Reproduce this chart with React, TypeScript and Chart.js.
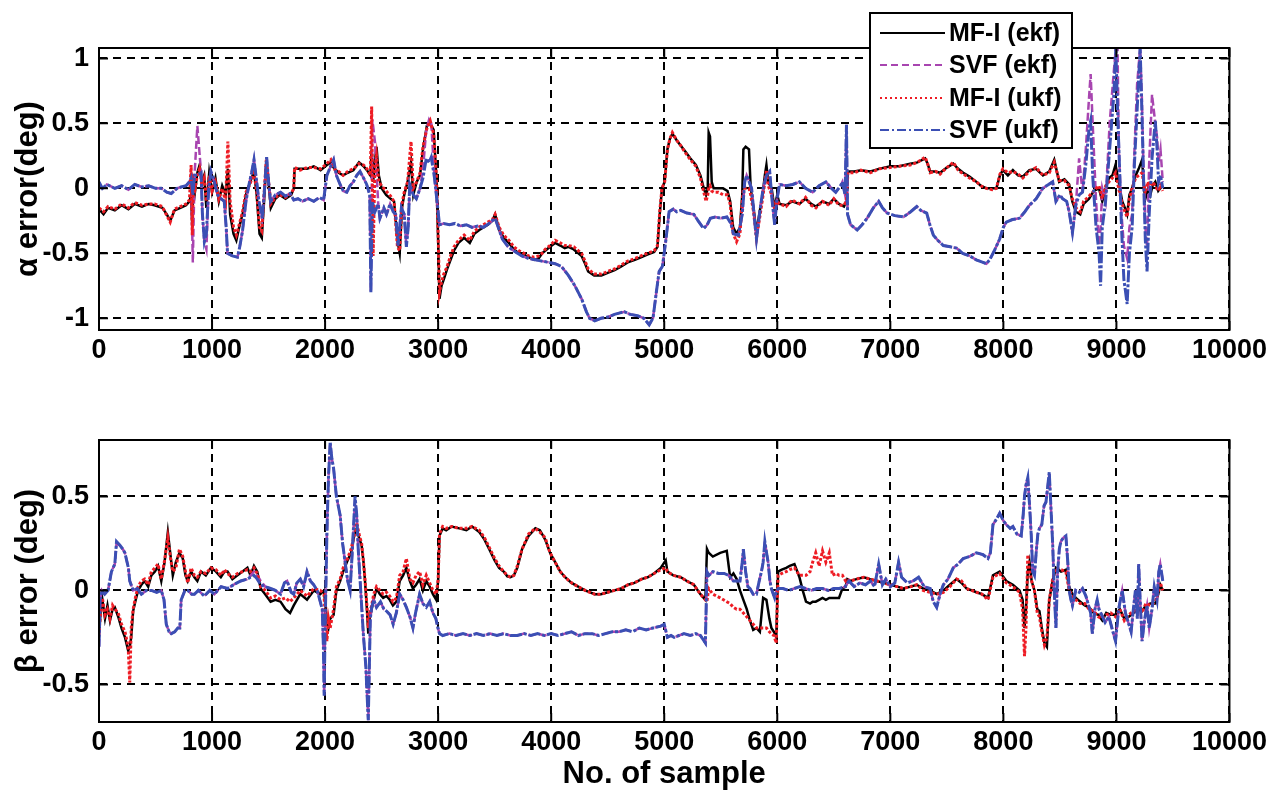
import React, { useEffect, useRef } from 'react';
import { Chart, registerables } from 'chart.js';

Chart.register(...registerables);

// ---------- labels ----------
const X_TICKS = [0, 1000, 2000, 3000, 4000, 5000, 6000, 7000, 8000, 9000, 10000];
const ALPHA_TICKS = [-1, -0.5, 0, 0.5, 1];
const BETA_TICKS = [-0.5, 0, 0.5];
const SERIES_NAMES = ['MF-I (ekf)', 'SVF (ekf)', 'MF-I (ukf)', 'SVF (ukf)'];
const ALPHA_TITLE = 'α error(deg)';
const BETA_TITLE = 'β error (deg)';
const X_TITLE = 'No. of sample';

// ---------- alpha (top) : MF-I sample positions ----------
const alphaMfX = [
  0, 40, 80, 140, 200, 260, 316, 380, 440, 492,
  560, 600, 630, 668, 720, 770, 800, 815, 825, 835,
  850, 870, 890, 910, 930, 950, 975, 1000, 1030, 1060,
  1090, 1120, 1140, 1160, 1190, 1215, 1240, 1270, 1300, 1330,
  1371, 1395, 1420, 1440, 1460, 1480, 1500, 1520, 1560, 1600,
  1650, 1700, 1723, 1730, 1780, 1840, 1900, 1960, 2016, 2050,
  2075, 2120, 2160, 2200, 2250, 2300, 2340, 2370, 2400, 2412,
  2425, 2440, 2455, 2475, 2500, 2540, 2580, 2610, 2640, 2660,
  2680, 2700, 2730, 2760, 2780, 2810, 2840, 2866, 2900, 2930,
  2960, 2985, 3000, 3012, 3030, 3050, 3080, 3110, 3140, 3180,
  3230, 3280, 3320, 3364, 3400, 3440, 3480, 3504, 3540, 3580,
  3626, 3670, 3714, 3760, 3801, 3850, 3889, 3920, 3947, 3990,
  4035, 4080, 4120, 4152, 4200, 4240, 4269, 4300, 4327, 4380,
  4444, 4500, 4561, 4620, 4677, 4740, 4794, 4850, 4911, 4940,
  4960, 4980, 5004, 5028, 5050, 5072, 5110, 5145, 5190, 5232,
  5280, 5320, 5350, 5370, 5385, 5393, 5405, 5420, 5437, 5480,
  5520, 5560, 5583, 5610, 5640, 5670, 5690, 5700, 5720, 5750,
  5765, 5790, 5816, 5840, 5870, 5890, 5904, 5920, 5950, 5975,
  6000, 6020, 6079, 6130, 6196, 6250, 6300, 6342, 6400, 6459,
  6500, 6546, 6590, 6610, 6625, 6680, 6740, 6824, 6900, 7000,
  7080, 7176, 7240, 7308, 7330, 7352, 7400, 7440, 7500, 7557,
  7600, 7645, 7700, 7762, 7800, 7850, 7900, 7938, 7970, 7996,
  8040, 8084, 8130, 8172, 8230, 8289, 8350, 8406, 8450, 8494,
  8540, 8582, 8610, 8641, 8680, 8710, 8758, 8800, 8846, 8875,
  8905, 8934, 8965, 8992, 9020, 9051, 9075, 9095, 9115, 9139,
  9170, 9197, 9227, 9245, 9256, 9280, 9300, 9320, 9344, 9370,
  9388, 9410,
];
const alphaMfEkf = [
  -0.16, -0.2, -0.15, -0.17, -0.13, -0.16, -0.12, -0.14, -0.12, -0.13,
  -0.15, -0.2, -0.25, -0.17, -0.15, -0.13, -0.1, -0.05, -0.3, 0.1,
  -0.02, 0.12, 0.18, 0.05, 0.1, -0.15, 0.12, -0.03, 0.08, -0.1,
  0.02, -0.05, 0.15, -0.2, -0.35, -0.4, -0.3, -0.2, -0.05, 0.03,
  0.13, -0.05, -0.35, -0.38, -0.1, 0.2, 0.05, -0.15, -0.08, -0.05,
  -0.08, -0.05, 0.0, 0.15, 0.15, 0.15, 0.17, 0.14, 0.18, 0.2,
  0.16, 0.12, 0.1, 0.12, 0.14, 0.2, 0.17, 0.14, 0.1, 0.3,
  0.05, 0.2, 0.32, 0.1, 0.0, -0.05, -0.08, -0.1, -0.4, -0.5,
  -0.15, -0.05, 0.05, 0.2, -0.05, 0.05, 0.1, 0.3, 0.48, 0.5,
  0.45, 0.08, -0.4, -0.85, -0.75, -0.7, -0.62, -0.55, -0.48, -0.42,
  -0.38, -0.42, -0.35, -0.32, -0.3, -0.28, -0.25, -0.2, -0.32, -0.38,
  -0.42, -0.47, -0.5, -0.51, -0.53, -0.55, -0.54, -0.5, -0.48, -0.45,
  -0.42, -0.44, -0.46, -0.45, -0.47, -0.5, -0.52, -0.58, -0.64, -0.67,
  -0.67, -0.65, -0.63, -0.6, -0.57, -0.55, -0.53, -0.51, -0.49, -0.45,
  -0.2, 0.0, 0.05, 0.3, 0.38, 0.42, 0.37, 0.33, 0.28, 0.23,
  0.18, 0.1, 0.0, -0.05, 0.0, 0.43, 0.4, 0.05, 0.0, 0.0,
  0.0, -0.02, -0.1, -0.3, -0.35, -0.3, -0.05, 0.3, 0.32, 0.3,
  0.0, -0.15, -0.34, -0.2, -0.05, 0.1, 0.18, 0.05, 0.0, -0.15,
  -0.05, -0.12, -0.13, -0.1, -0.12, -0.08, -0.12, -0.14, -0.1, -0.12,
  -0.08, -0.12, -0.14, -0.1, 0.13, 0.13, 0.14, 0.13, 0.15, 0.17,
  0.17, 0.19, 0.2, 0.23, 0.19, 0.13, 0.13, 0.12, 0.16, 0.19,
  0.15, 0.12, 0.09, 0.05, 0.02, 0.0, 0.0, 0.0, 0.1, 0.14,
  0.1, 0.14, 0.1, 0.09, 0.14, 0.15, 0.1, 0.13, 0.22, 0.05,
  0.07, 0.03, -0.1, -0.18, -0.2, -0.12, -0.08, -0.02, 0.0, -0.1,
  0.0, 0.08, 0.1, 0.18, 0.05, -0.1, -0.15, -0.2, -0.05, 0.0,
  0.1, 0.15, 0.22, 0.0, -0.08, 0.0, -0.05, 0.02, 0.05, -0.02,
  0.0, 0.02,
];
const alphaMfUkf = [
  -0.15, -0.18, -0.14, -0.16, -0.12, -0.15, -0.11, -0.13, -0.12, -0.12,
  -0.14, -0.21, -0.26, -0.16, -0.14, -0.12, -0.09, 0.18, -0.36, 0.05,
  0.0, 0.1, 0.15, 0.03, 0.08, -0.1, 0.1, -0.02, 0.05, -0.08,
  0.0, -0.1, 0.36, -0.1, -0.3, -0.36, -0.28, -0.18, -0.03, 0.02,
  0.12, -0.03, -0.3, -0.33, -0.05, 0.22, 0.05, -0.12, -0.07, -0.05,
  -0.07, -0.04, 0.0, 0.16, 0.14, 0.16, 0.16, 0.15, 0.19, 0.22,
  0.15, 0.13, 0.1, 0.13, 0.15, 0.19, 0.18, 0.15, 0.1, 0.63,
  -0.52, 0.15, 0.25, 0.05, 0.02, -0.02, -0.06, -0.1, -0.45, -0.48,
  -0.12, -0.03, 0.05, 0.36, 0.0, 0.05, 0.12, 0.32, 0.46, 0.52,
  0.42, 0.1, -0.35, -0.8, -0.72, -0.66, -0.6, -0.52, -0.45, -0.4,
  -0.36, -0.4, -0.33, -0.3, -0.28, -0.26, -0.24, -0.2, -0.3, -0.36,
  -0.4, -0.45, -0.48, -0.5, -0.52, -0.53, -0.52, -0.5, -0.47, -0.44,
  -0.4, -0.42, -0.44, -0.44, -0.45, -0.48, -0.5, -0.56, -0.62, -0.66,
  -0.66, -0.64, -0.62, -0.59, -0.56, -0.54, -0.52, -0.5, -0.48, -0.44,
  -0.18, 0.0, 0.05, 0.3, 0.38, 0.43, 0.37, 0.33, 0.27, 0.22,
  0.17, 0.08, -0.03, -0.1, -0.05, 0.0, 0.02, -0.02, -0.03, -0.03,
  -0.05, -0.05, -0.12, -0.35, -0.41, -0.35, -0.1, 0.0, 0.0, 0.0,
  -0.05, -0.18, -0.38, -0.25, -0.08, 0.05, 0.14, 0.02, -0.05, -0.15,
  -0.1, -0.12, -0.14, -0.09, -0.12, -0.07, -0.13, -0.15, -0.1, -0.13,
  -0.08, -0.13, -0.13, -0.1, 0.12, 0.12, 0.14, 0.12, 0.15, 0.16,
  0.17, 0.18, 0.2, 0.24, 0.19, 0.12, 0.13, 0.11, 0.16, 0.2,
  0.14, 0.11, 0.08, 0.05, 0.02, 0.0, -0.01, 0.0, 0.11, 0.15,
  0.12, 0.13, 0.11, 0.08, 0.13, 0.16, 0.1, 0.12, 0.2, 0.06,
  0.06, 0.02, -0.08, -0.15, -0.18, -0.1, -0.06, -0.02, 0.02, -0.08,
  0.02, 0.05, 0.08, 0.12, 0.0, -0.12, -0.18, -0.22, -0.08, 0.0,
  0.08, 0.1, 0.12, 0.02, -0.02, 0.05, 0.0, 0.05, 0.02, -0.02,
  0.02, -0.02,
];

// ---------- alpha (top) : SVF sample positions ----------
const alphaSvfX = [
  0, 30, 70, 140, 200, 260, 316, 380, 440, 500,
  551, 600, 639, 690, 727, 770, 800, 815, 830, 845,
  870, 903, 915, 932, 950, 970, 990, 1020, 1049, 1080,
  1108, 1125, 1137, 1180, 1225, 1245, 1269, 1300, 1327, 1350,
  1371, 1395, 1415, 1444, 1465, 1483, 1500, 1518, 1560, 1606,
  1650, 1690, 1723, 1760, 1800, 1850, 1900, 1950, 1987, 2016,
  2040, 2075, 2100, 2133, 2160, 2192, 2220, 2250, 2280, 2309,
  2340, 2368, 2395, 2405, 2418, 2441, 2470, 2485, 2520, 2543,
  2575, 2602, 2625, 2645, 2660, 2675, 2700, 2719, 2735, 2749,
  2780, 2807, 2840, 2866, 2895, 2920, 2939, 2968, 2990, 3012,
  3050, 3100, 3150, 3200, 3250, 3300, 3350, 3400, 3450, 3504,
  3540, 3568, 3620, 3685, 3740, 3801, 3860, 3918, 3980, 4035,
  4090, 4152, 4210, 4269, 4312, 4340, 4385, 4440, 4502, 4560,
  4600, 4648, 4700, 4765, 4820, 4867, 4900, 4911, 4930, 4955,
  4984, 5013, 5043, 5080, 5110, 5145, 5200, 5262, 5300, 5349,
  5380, 5408, 5450, 5500, 5554, 5590, 5612, 5656, 5690, 5712,
  5729, 5773, 5800, 5816, 5850, 5875, 5905, 5933, 5955, 5977,
  5995, 6020, 6080, 6137, 6196, 6250, 6313, 6370, 6430, 6480,
  6517, 6560, 6576, 6600, 6612, 6622, 6648, 6707, 6750, 6795,
  6850, 6897, 6930, 6971, 7040, 7117, 7180, 7234, 7270, 7322,
  7350, 7381, 7420, 7469, 7530, 7586, 7640, 7703, 7760, 7820,
  7850, 7879, 7920, 7967, 8000, 8026, 8080, 8143, 8190, 8231,
  8290, 8348, 8400, 8436, 8465, 8500, 8524, 8560, 8582, 8611,
  8641, 8670, 8700, 8729, 8758, 8772, 8790, 8820, 8846, 8860,
  8875, 8904, 8940, 8977, 8995, 9010, 9022, 9045, 9066, 9095,
  9115, 9139, 9160, 9183, 9210, 9225, 9241, 9256, 9271, 9290,
  9315, 9344, 9360, 9373, 9390, 9410,
];
const alphaSvfUkf = [
  0.05, 0.0, 0.03, 0.0, 0.02, -0.01, 0.03, 0.01, 0.02, 0.0,
  0.0, -0.03, -0.04, 0.0, 0.01, 0.02, 0.05, 0.08, -0.05, 0.1,
  0.1, 0.12, -0.2, -0.41, -0.35, 0.0, 0.13, 0.05, -0.05, -0.08,
  -0.1, -0.3, -0.5, -0.52, -0.53, -0.45, -0.33, -0.1, 0.03, 0.12,
  0.22, 0.05, -0.1, -0.23, 0.0, 0.24, 0.05, -0.1, -0.05, -0.03,
  -0.06, -0.04, -0.09, -0.08, -0.1, -0.08, -0.1, -0.07, -0.09, 0.1,
  0.15, 0.22, 0.1, 0.03, -0.02, -0.03, 0.02, 0.05, 0.1, 0.13,
  0.08, 0.03, -0.05, -0.8, -0.1, -0.18, -0.12, -0.23, -0.15, -0.2,
  -0.12, -0.18, -0.2, -0.44, -0.3, -0.15, -0.2, -0.45, -0.3, 0.03,
  -0.05, -0.08, 0.0, 0.08, 0.23, 0.2, 0.24, 0.08, -0.1, -0.28,
  -0.27, -0.28, -0.27, -0.29, -0.28, -0.3, -0.29, -0.3, -0.27, -0.23,
  -0.32, -0.39, -0.45, -0.49, -0.52, -0.54, -0.55, -0.56, -0.57, -0.58,
  -0.6, -0.67, -0.75, -0.85, -0.95, -1.0, -1.02, -1.0, -0.99, -0.97,
  -0.96, -0.95, -0.97, -0.98, -1.0, -1.05, -1.0, -0.93, -0.8, -0.64,
  -0.6, -0.41, -0.18, -0.16, -0.18, -0.17, -0.19, -0.2, -0.25, -0.31,
  -0.28, -0.23, -0.22, -0.23, -0.22, -0.27, -0.35, -0.36, -0.2, 0.05,
  0.1, 0.0, -0.25, -0.39, -0.15, 0.0, 0.1, 0.13, -0.1, -0.28,
  -0.1, 0.03, 0.02, 0.03, 0.05, 0.0, -0.03, 0.02, 0.05, 0.0,
  -0.03, 0.02, 0.05, -0.05, 0.49, -0.2, -0.28, -0.32, -0.28, -0.23,
  -0.15, -0.1, -0.15, -0.19, -0.21, -0.22, -0.18, -0.14, -0.17, -0.19,
  -0.28, -0.36, -0.4, -0.44, -0.45, -0.46, -0.5, -0.52, -0.55, -0.57,
  -0.58, -0.55, -0.48, -0.39, -0.3, -0.26, -0.24, -0.23, -0.18, -0.13,
  -0.08, 0.0, 0.03, 0.05, -0.1, -0.05, -0.08, -0.1, -0.18, -0.34,
  -0.13, -0.05, -0.03, 0.18, 0.46, 0.52, 0.1, -0.3, -0.49, -0.75,
  -0.3, -0.1, 0.3, 0.72, 1.08, 0.6, 0.3, -0.3, -0.7, -0.89,
  -0.5, -0.3, 0.2, 0.6, 1.08, 0.6, 0.05, -0.4, -0.64, -0.2,
  0.23, 0.52, 0.3, 0.05, 0.1, 0.0,
];
const alphaSvfEkf = [
  0.04, 0.0, 0.03, 0.0, 0.02, -0.01, 0.03, 0.01, 0.02, 0.0,
  0.0, -0.03, -0.04, 0.0, 0.01, 0.02, 0.05, 0.08, -0.57, 0.1,
  0.48, 0.12, -0.2, -0.41, -0.47, 0.0, 0.13, 0.05, -0.05, -0.08,
  -0.1, -0.3, -0.5, -0.52, -0.53, -0.45, -0.33, -0.1, 0.03, 0.12,
  0.22, 0.05, -0.1, -0.23, 0.0, 0.24, 0.05, -0.1, -0.05, -0.03,
  -0.06, -0.04, -0.09, -0.08, -0.1, -0.08, -0.1, -0.07, -0.09, 0.1,
  0.15, 0.22, 0.1, 0.03, -0.02, -0.03, 0.02, 0.05, 0.1, 0.13,
  0.08, 0.03, -0.05, -0.8, 0.53, 0.36, -0.12, -0.23, -0.15, -0.2,
  -0.12, -0.18, -0.2, -0.44, -0.3, -0.15, -0.2, -0.45, -0.3, 0.03,
  -0.05, -0.08, 0.0, 0.15, 0.45, 0.53, 0.5, 0.08, -0.1, -0.28,
  -0.27, -0.28, -0.27, -0.29, -0.28, -0.3, -0.29, -0.3, -0.27, -0.23,
  -0.32, -0.39, -0.45, -0.49, -0.52, -0.54, -0.55, -0.56, -0.57, -0.58,
  -0.6, -0.67, -0.75, -0.85, -0.95, -1.0, -1.02, -1.0, -0.99, -0.97,
  -0.96, -0.95, -0.97, -0.98, -1.0, -1.05, -1.0, -0.93, -0.8, -0.64,
  -0.6, -0.41, -0.18, -0.16, -0.18, -0.17, -0.19, -0.2, -0.25, -0.31,
  -0.28, -0.23, -0.22, -0.23, -0.22, -0.27, -0.35, -0.36, -0.2, 0.05,
  0.1, 0.0, -0.25, -0.39, -0.15, 0.0, 0.1, 0.13, -0.1, -0.28,
  -0.1, 0.03, 0.02, 0.03, 0.05, 0.0, -0.03, 0.02, 0.05, 0.0,
  -0.03, 0.02, 0.05, -0.05, 0.49, -0.2, -0.28, -0.32, -0.28, -0.23,
  -0.15, -0.1, -0.15, -0.19, -0.21, -0.22, -0.18, -0.14, -0.17, -0.19,
  -0.28, -0.36, -0.4, -0.44, -0.45, -0.46, -0.5, -0.52, -0.55, -0.57,
  -0.58, -0.55, -0.48, -0.39, -0.3, -0.26, -0.24, -0.23, -0.18, -0.13,
  -0.08, 0.0, 0.03, 0.05, -0.1, -0.05, -0.08, -0.1, -0.18, -0.34,
  -0.13, 0.23, -0.03, 0.3, 0.7, 0.88, 0.5, -0.1, -0.44, -0.3,
  0.0, -0.1, 0.5, 0.9, 1.08, 1.08, 0.3, -0.2, -0.44, -0.54,
  -0.3, -0.2, 0.3, 0.8, 1.08, 0.7, 0.1, -0.3, -0.45, 0.2,
  0.72, 0.5, 0.39, 0.2, 0.3, 0.05,
];

// ---------- beta (bottom) : MF-I sample positions ----------
const betaMfX = [
  0, 15, 30, 53, 75, 97, 120, 140, 170, 199,
  230, 258, 272, 285, 302, 325, 346, 375, 404, 435,
  463, 495, 522, 551, 580, 609, 630, 653, 680, 712,
  741, 765, 785, 815, 844, 870, 902, 945, 990, 1035,
  1078, 1110, 1137, 1180, 1225, 1270, 1313, 1340, 1371, 1400,
  1430, 1470, 1518, 1560, 1606, 1650, 1690, 1723, 1780, 1840,
  1900, 1957, 1990, 2016, 2030, 2045, 2075, 2100, 2133, 2160,
  2192, 2230, 2260, 2280, 2300, 2323, 2340, 2353, 2370, 2382,
  2395, 2412, 2430, 2455, 2485, 2514, 2543, 2572, 2600, 2631,
  2660, 2690, 2719, 2750, 2777, 2805, 2836, 2865, 2895, 2925,
  2954, 2983, 3000, 3012, 3040, 3071, 3120, 3188, 3250, 3300,
  3364, 3410, 3451, 3500, 3539, 3580, 3612, 3640, 3670, 3700,
  3743, 3800, 3860, 3900, 3947, 3990, 4035, 4080, 4123, 4180,
  4239, 4300, 4385, 4440, 4502, 4560, 4619, 4680, 4736, 4800,
  4853, 4910, 4969, 5013, 5028, 5080, 5145, 5200, 5262, 5320,
  5364, 5378, 5393, 5430, 5495, 5553, 5583, 5612, 5641, 5670,
  5700, 5730, 5758, 5787, 5816, 5846, 5875, 5904, 5930, 5948,
  5970, 5991, 6007, 6040, 6079, 6110, 6152, 6196, 6225, 6254,
  6290, 6313, 6340, 6370, 6400, 6430, 6460, 6488, 6520, 6546,
  6576, 6605, 6620, 6648, 6700, 6766, 6820, 6883, 6940, 7000,
  7060, 7117, 7180, 7234, 7290, 7352, 7410, 7470, 7527, 7586,
  7630, 7674, 7720, 7762, 7810, 7864, 7908, 7967, 8026, 8084,
  8143, 8170, 8187, 8200, 8216, 8231, 8250, 8275, 8300, 8319,
  8340, 8363, 8385, 8406, 8436, 8465, 8510, 8553, 8582, 8611,
  8641, 8680, 8720, 8758, 8800, 8840, 8875, 8910, 8950, 8992,
  9030, 9070, 9110, 9150, 9190, 9227, 9260, 9300, 9344, 9370,
  9388, 9410,
];
const betaMfEkf = [
  -0.25, -0.1, -0.05, -0.15, -0.08, -0.16, -0.1, -0.09, -0.14, -0.2,
  -0.25, -0.32, -0.3, -0.25, -0.11, -0.05, 0.0, 0.03, 0.05, 0.02,
  0.08, 0.1, 0.13, 0.05, 0.15, 0.31, 0.2, 0.08, 0.15, 0.2,
  0.17, 0.08, 0.05, 0.1, 0.07, 0.05, 0.1, 0.08, 0.12, 0.1,
  0.07, 0.1, 0.1, 0.06, 0.08, 0.1, 0.12, 0.08, 0.13, 0.1,
  0.01, -0.02, -0.06, -0.05, -0.06, -0.1, -0.12, -0.08, -0.02, -0.05,
  0.0, -0.02, 0.0, -0.16, -0.2, -0.15, -0.13, 0.0, 0.05, 0.1,
  0.15, 0.2, 0.3, 0.33, 0.28, 0.24, 0.15, 0.05, -0.1, -0.23,
  -0.15, -0.1, -0.05, 0.01, -0.02, -0.04, -0.03, -0.05, -0.08, -0.06,
  0.05, 0.08, 0.12, 0.05, 0.01, 0.03, 0.06, 0.0, 0.05, 0.02,
  -0.02, -0.05, 0.05, 0.29, 0.33, 0.32, 0.34, 0.33, 0.32, 0.34,
  0.31, 0.27, 0.22, 0.16, 0.12, 0.1, 0.075, 0.07, 0.08, 0.12,
  0.22, 0.29, 0.33, 0.32, 0.27, 0.2, 0.15, 0.1, 0.07, 0.04,
  0.02, 0.0, -0.02, -0.02, -0.01, 0.0, 0.01, 0.03, 0.04, 0.06,
  0.07, 0.09, 0.12, 0.16, 0.1, 0.08, 0.07, 0.05, 0.03, -0.02,
  -0.05, 0.22, 0.2, 0.18, 0.2, 0.21, 0.07, 0.09, 0.06, 0.0,
  -0.05, -0.1, -0.16, -0.21, -0.2, -0.22, -0.04, -0.05, -0.15, -0.2,
  -0.22, -0.25, 0.1, 0.11, 0.12, 0.13, 0.14, 0.07, 0.0, -0.06,
  -0.07, -0.06, -0.06, -0.05, -0.04, -0.05, -0.04, -0.04, -0.04, -0.04,
  0.01, 0.02, 0.06, 0.05, 0.06, 0.07, 0.06, 0.05, 0.04, 0.03,
  0.02, 0.01, 0.02, 0.03, 0.01, 0.0, -0.02, 0.0, 0.03, 0.06,
  0.04, 0.01, 0.0, -0.01, -0.02, -0.04, 0.08, 0.1, 0.05, 0.03,
  0.0, -0.05, -0.2, -0.1, 0.1, 0.15, 0.05, 0.0, -0.1, -0.11,
  -0.2, -0.28, -0.3, -0.05, 0.05, 0.12, 0.1, 0.11, 0.02, -0.02,
  -0.04, -0.06, -0.08, -0.09, -0.12, -0.13, -0.16, -0.12, -0.13, -0.13,
  -0.1, -0.15, -0.14, -0.12, -0.1, -0.11, -0.08, -0.07, -0.07, -0.02,
  0.03, 0.0,
];
const betaMfUkf = [
  -0.22, -0.12, -0.04, -0.13, -0.1, -0.15, -0.08, -0.1, -0.12, -0.18,
  -0.22, -0.3, -0.49, -0.2, -0.1, -0.03, 0.02, 0.05, 0.06, 0.03,
  0.1, 0.12, 0.14, 0.06, 0.16, 0.28, 0.18, 0.1, 0.12, 0.22,
  0.18, 0.1, 0.04, 0.12, 0.08, 0.07, 0.1, 0.09, 0.12, 0.11,
  0.08, 0.11, 0.09, 0.07, 0.09, 0.1, 0.11, 0.1, 0.12, 0.09,
  0.02, 0.0, -0.04, -0.03, -0.05, -0.04, -0.06, -0.04, 0.0, -0.03,
  0.01, 0.0, -0.02, -0.27, -0.15, -0.2, -0.1, 0.02, 0.06, 0.12,
  0.16, 0.22, 0.3, 0.36, 0.3, 0.25, 0.15, 0.06, -0.08, -0.2,
  -0.12, -0.08, -0.02, 0.02, 0.0, -0.02, -0.01, -0.03, -0.06, -0.04,
  0.08, 0.1, 0.17, 0.06, 0.04, 0.08, 0.1, 0.03, 0.08, 0.04,
  0.0, -0.02, 0.06, 0.3, 0.34, 0.33, 0.34, 0.33, 0.33, 0.34,
  0.32, 0.28, 0.23, 0.17, 0.13, 0.1, 0.08, 0.07, 0.08, 0.13,
  0.22, 0.3, 0.33, 0.31, 0.28, 0.2, 0.15, 0.1, 0.07, 0.04,
  0.02, 0.0, -0.02, -0.02, -0.01, 0.0, 0.01, 0.03, 0.04, 0.06,
  0.07, 0.09, 0.11, 0.12, 0.1, 0.08, 0.07, 0.05, 0.03, -0.02,
  -0.05, -0.06, 0.01, -0.02, -0.04, -0.06, -0.07, -0.09, -0.1, -0.1,
  -0.12, -0.14, -0.16, -0.18, -0.2, -0.2, -0.2, -0.2, -0.22, -0.23,
  -0.24, -0.28, 0.08, 0.09, 0.1, 0.11, 0.12, 0.08, 0.08, 0.08,
  0.1, 0.15, 0.2, 0.13, 0.21, 0.15, 0.2, 0.08, 0.09, 0.08,
  0.08, 0.05, 0.06, 0.05, 0.06, 0.07, 0.06, 0.05, 0.04, 0.03,
  0.02, 0.01, 0.02, 0.03, 0.0, -0.01, -0.02, -0.01, 0.02, 0.06,
  0.05, 0.01, 0.0, -0.01, -0.02, -0.05, 0.07, 0.09, 0.04, 0.02,
  -0.01, -0.1, -0.35, -0.2, 0.19, 0.1, 0.05, 0.0, -0.12, -0.14,
  -0.22, -0.29, -0.25, -0.05, 0.06, 0.12, 0.11, 0.1, 0.0, -0.03,
  -0.05, -0.07, -0.07, -0.1, -0.11, -0.14, -0.15, -0.13, -0.12, -0.14,
  -0.1, -0.16, -0.13, -0.11, -0.09, -0.12, -0.07, -0.08, -0.06, -0.01,
  0.04, 0.0,
];

// ---------- beta (bottom) : SVF sample positions ----------
const betaSvfX = [
  0, 10, 25, 50, 80, 110, 140, 155, 185, 210,
  229, 260, 272, 302, 340, 375, 420, 463, 510, 551,
  575, 595, 620, 639, 670, 697, 715, 727, 760, 785,
  820, 844, 880, 932, 980, 1020, 1080, 1137, 1190, 1254,
  1310, 1371, 1400, 1430, 1470, 1518, 1560, 1606, 1640, 1664,
  1700, 1723, 1750, 1781, 1810, 1840, 1870, 1899, 1930, 1957,
  1975, 1985, 1992, 2000, 2016, 2030, 2045, 2060, 2075, 2100,
  2133, 2155, 2177, 2200, 2221, 2240, 2265, 2280, 2294, 2315,
  2338, 2360, 2375, 2382, 2390, 2400, 2412, 2430, 2455, 2490,
  2520, 2543, 2575, 2602, 2630, 2660, 2690, 2719, 2750, 2777,
  2800, 2836, 2865, 2895, 2925, 2954, 2980, 2998, 3012, 3040,
  3100, 3160, 3220, 3280, 3340, 3400, 3460, 3520, 3580, 3640,
  3700, 3760, 3820, 3880, 3940, 4000, 4060, 4120, 4180, 4240,
  4300, 4360, 4420, 4480, 4540, 4600, 4660, 4720, 4780, 4840,
  4900, 4969, 5000, 5028, 5060, 5087, 5130, 5174, 5230, 5280,
  5320, 5364, 5378, 5395, 5430, 5480, 5530, 5570, 5612, 5640,
  5670, 5690, 5700, 5720, 5740, 5758, 5787, 5816, 5840, 5860,
  5875, 5890, 5905, 5919, 5935, 5948, 5965, 5977, 5995, 6010,
  6050, 6100, 6150, 6200, 6250, 6300, 6350, 6400, 6450, 6500,
  6550, 6600, 6634, 6680, 6730, 6780, 6824, 6860, 6897, 6930,
  6960, 7000, 7040, 7073, 7100, 7150, 7200, 7250, 7300, 7352,
  7380, 7410, 7440, 7469, 7510, 7557, 7600, 7645, 7700, 7762,
  7820, 7864, 7885, 7908, 7940, 7967, 8000, 8026, 8060, 8084,
  8120, 8158, 8175, 8187, 8200, 8216, 8232, 8246, 8260, 8275,
  8290, 8305, 8319, 8340, 8360, 8377, 8392, 8406, 8420, 8436,
  8450, 8465, 8480, 8495, 8509, 8530, 8553, 8570, 8582, 8598,
  8611, 8640, 8670, 8700, 8730, 8758, 8772, 8787, 8810, 8830,
  8846, 8870, 8900, 8934, 8960, 8992, 9020, 9051, 9080, 9110,
  9130, 9150, 9168, 9185, 9197, 9210, 9227, 9250, 9271, 9290,
  9315, 9335, 9359, 9375, 9388, 9410,
];
const betaSvfUkf = [
  -0.3, -0.05, 0.0, -0.02, 0.0, 0.1, 0.14, 0.26, 0.24, 0.22,
  0.2, 0.12, 0.05, 0.0, 0.01, -0.02, 0.0, 0.0, -0.01, 0.0,
  -0.05, -0.18, -0.22, -0.23, -0.22, -0.2, -0.2, -0.05, 0.0, 0.0,
  -0.02, -0.02, 0.0, -0.03, 0.0, -0.02, 0.02, 0.01, 0.03, 0.05,
  0.06, 0.08, 0.06, 0.03, 0.02, 0.01, 0.0, -0.02, 0.04, 0.05,
  -0.01, -0.02, 0.04, 0.06, 0.02, 0.1, 0.05, 0.03, 0.0, -0.06,
  -0.1, -0.3, -0.56, -0.2, 0.3, 0.6, 0.79, 0.7, 0.65, 0.5,
  0.4, 0.25, 0.15, 0.05, 0.0, 0.2, 0.5, 0.4, 0.21, 0.0,
  -0.23, -0.4, -0.6, -0.69, -0.45, -0.15, -0.09, -0.05, -0.09, -0.06,
  -0.1, -0.11, -0.13, -0.18, -0.12, -0.02, -0.05, -0.09, -0.14, -0.2,
  -0.12, -0.02, -0.07, -0.09, -0.06, -0.12, -0.15, -0.2, -0.23, -0.24,
  -0.23, -0.24, -0.23, -0.24, -0.23, -0.24, -0.23, -0.24, -0.23, -0.24,
  -0.24, -0.23, -0.24, -0.23, -0.24, -0.23, -0.24, -0.23, -0.22, -0.24,
  -0.23, -0.23, -0.24, -0.23, -0.22, -0.22, -0.21, -0.22, -0.2, -0.21,
  -0.2, -0.19, -0.18, -0.25, -0.24, -0.25, -0.24, -0.23, -0.24, -0.23,
  -0.24, -0.28, 0.1, 0.08, 0.1, 0.09, 0.09, 0.08, 0.05, 0.05,
  0.05, 0.15, 0.22, 0.1, 0.02, 0.01, -0.02, -0.02, 0.05, 0.1,
  0.15, 0.26, 0.2, 0.15, 0.05, 0.01, -0.02, -0.04, 0.0, 0.01,
  0.01, 0.0, 0.01, 0.02, 0.01, 0.0, 0.01, 0.01, 0.0, 0.01,
  0.01, 0.02, 0.05, 0.02, 0.04, 0.03, 0.05, 0.02, 0.14, 0.03,
  0.06, 0.02, 0.04, 0.15, 0.07, 0.04, 0.05, 0.07, 0.02, 0.01,
  -0.06, -0.09, -0.02, 0.03, 0.06, 0.12, 0.14, 0.17, 0.18, 0.2,
  0.19, 0.17, 0.2, 0.35, 0.38, 0.41, 0.37, 0.35, 0.33, 0.34,
  0.3, 0.29, 0.4, 0.5, 0.56, 0.6, 0.45, 0.3, 0.1, 0.08,
  0.2, 0.3, 0.33, 0.35, 0.45, 0.47, 0.55, 0.63, 0.45, 0.25,
  0.0, -0.2, 0.1, 0.22, 0.26, 0.28, 0.29, 0.15, 0.0, -0.05,
  -0.08, 0.0, -0.01, 0.01, -0.03, -0.09, -0.12, -0.23, -0.1, -0.05,
  -0.1, -0.13, -0.17, -0.14, -0.2, -0.27, -0.1, 0.0, -0.12, -0.18,
  -0.22, -0.1, 0.0, -0.15, 0.14, -0.05, -0.27, -0.15, -0.08, -0.2,
  -0.1, 0.02, -0.05, 0.1, 0.14, 0.05,
];
const betaSvfEkf = [
  -0.3, -0.05, 0.0, -0.02, 0.0, 0.1, 0.14, 0.25, 0.24, 0.22,
  0.2, 0.12, 0.05, 0.0, 0.01, -0.02, 0.0, 0.0, -0.01, 0.0,
  -0.05, -0.18, -0.22, -0.23, -0.22, -0.2, -0.2, -0.05, 0.0, 0.0,
  -0.02, -0.02, 0.0, -0.03, 0.0, -0.02, 0.02, 0.01, 0.03, 0.05,
  0.06, 0.1, 0.08, 0.05, 0.02, 0.01, 0.0, -0.02, 0.04, 0.05,
  -0.01, -0.02, 0.04, 0.06, 0.02, 0.1, 0.05, 0.03, 0.0, -0.06,
  -0.1, -0.3, -0.56, -0.2, 0.3, 0.6, 0.78, 0.7, 0.65, 0.5,
  0.4, 0.25, 0.15, 0.05, 0.0, 0.2, 0.48, 0.4, 0.21, 0.0,
  -0.23, -0.4, -0.6, -0.69, -0.45, -0.15, -0.09, -0.05, -0.09, -0.06,
  -0.1, -0.11, -0.13, -0.18, -0.12, -0.02, -0.05, -0.09, -0.14, -0.2,
  -0.12, -0.02, -0.07, -0.09, -0.06, -0.12, -0.15, -0.2, -0.23, -0.24,
  -0.23, -0.24, -0.23, -0.24, -0.23, -0.24, -0.23, -0.24, -0.23, -0.24,
  -0.24, -0.23, -0.24, -0.23, -0.24, -0.23, -0.24, -0.23, -0.22, -0.24,
  -0.23, -0.23, -0.24, -0.23, -0.22, -0.22, -0.21, -0.22, -0.2, -0.21,
  -0.2, -0.19, -0.18, -0.25, -0.24, -0.25, -0.24, -0.23, -0.24, -0.23,
  -0.24, -0.28, 0.1, 0.08, 0.1, 0.09, 0.09, 0.08, 0.05, 0.05,
  0.05, 0.15, 0.22, 0.1, 0.02, 0.01, -0.02, -0.02, 0.05, 0.1,
  0.15, 0.26, 0.2, 0.15, 0.05, 0.01, -0.02, -0.04, 0.0, 0.01,
  0.01, 0.0, 0.01, 0.02, 0.01, 0.0, 0.01, 0.01, 0.0, 0.01,
  0.01, 0.02, 0.05, 0.02, 0.04, 0.03, 0.05, 0.02, 0.14, 0.03,
  0.06, 0.02, 0.04, 0.15, 0.07, 0.04, 0.05, 0.07, 0.02, 0.01,
  -0.06, -0.09, -0.02, 0.03, 0.06, 0.12, 0.14, 0.17, 0.18, 0.2,
  0.19, 0.17, 0.2, 0.35, 0.38, 0.41, 0.37, 0.35, 0.33, 0.34,
  0.3, 0.29, 0.4, 0.5, 0.56, 0.6, 0.45, 0.3, 0.1, 0.08,
  0.2, 0.3, 0.33, 0.35, 0.45, 0.47, 0.55, 0.62, 0.45, 0.25,
  0.0, -0.2, 0.1, 0.22, 0.26, 0.28, 0.29, 0.15, 0.0, -0.05,
  -0.08, 0.0, -0.01, 0.01, -0.03, -0.09, -0.12, -0.23, -0.1, -0.05,
  -0.1, -0.13, -0.17, -0.14, -0.2, -0.27, -0.1, 0.0, -0.12, -0.18,
  -0.22, -0.1, 0.0, -0.15, 0.14, -0.05, -0.27, -0.15, -0.08, -0.2,
  -0.1, 0.02, -0.05, 0.1, 0.14, 0.05,
];

// ---------- styling ----------
const TICK_FAMILY = "'Liberation Sans Narrow', 'Liberation Sans', Arial, sans-serif";
const TITLE_FAMILY = "'Liberation Sans', Arial, sans-serif";
const SERIES_STYLE = [
  { color: '#000000', dash: [] as number[], width: 2.5, order: 4 },
  { color: '#a845b0', dash: [8, 3], width: 2.5, order: 3 },
  { color: '#ee1c24', dash: [3, 2], width: 3, order: 2 },
  { color: '#3b4fb4', dash: [12, 2, 3, 2], width: 3, order: 1 },
];
const LEGEND_DASH = [[], [7, 4], [2, 3], [9, 3, 2, 3]];

function pts(xs: number[], ys: number[]) {
  const n = Math.min(xs.length, ys.length);
  const out: { x: number; y: number }[] = [];
  for (let i = 0; i < n; i++) out.push({ x: xs[i], y: ys[i] });
  return out;
}

const framePlugin = {
  id: 'matlabFrame',
  afterDatasetsDraw(chart: any) {
    const { ctx, chartArea: a, scales } = chart;
    const tl = 9;
    ctx.save();
    ctx.setLineDash([]);
    ctx.strokeStyle = '#000';
    ctx.lineWidth = 2;
    ctx.beginPath();
    scales.x.ticks.forEach((t: any) => {
      const px = scales.x.getPixelForValue(t.value);
      ctx.moveTo(px, a.bottom);
      ctx.lineTo(px, a.bottom - tl);
      ctx.moveTo(px, a.top);
      ctx.lineTo(px, a.top + tl);
    });
    scales.y.ticks.forEach((t: any) => {
      const py = scales.y.getPixelForValue(t.value);
      ctx.moveTo(a.left, py);
      ctx.lineTo(a.left + tl, py);
      ctx.moveTo(a.right, py);
      ctx.lineTo(a.right - tl, py);
    });
    ctx.stroke();
    ctx.strokeRect(a.left, a.top, a.right - a.left, a.bottom - a.top);
    ctx.restore();
  },
};

const boxLegendPlugin = {
  id: 'boxLegend',
  afterDraw(chart: any) {
    const opts = chart.options.plugins.boxLegend;
    if (!opts || !opts.show) return;
    const ctx = chart.ctx;
    const left = 870, top = 13, w = 202, h = 135;
    const rowY = [33, 65, 98, 130];
    ctx.save();
    ctx.fillStyle = '#ffffff';
    ctx.fillRect(left, top, w, h);
    ctx.setLineDash([]);
    ctx.lineWidth = 2;
    ctx.strokeStyle = '#000';
    ctx.strokeRect(left, top, w, h);
    ctx.font = `bold 25px ${TITLE_FAMILY}`;
    ctx.textBaseline = 'middle';
    ctx.textAlign = 'left';
    SERIES_NAMES.forEach((name, i) => {
      const st = SERIES_STYLE[i];
      ctx.strokeStyle = st.color;
      ctx.lineWidth = 2;
      ctx.setLineDash(LEGEND_DASH[i]);
      ctx.beginPath();
      ctx.moveTo(left + 10, rowY[i]);
      ctx.lineTo(left + 75, rowY[i]);
      ctx.stroke();
      ctx.setLineDash([]);
      ctx.fillStyle = '#000';
      ctx.fillText(name, left + 79, rowY[i] + 1);
    });
    ctx.restore();
  },
};

function buildConfig(p: {
  series: { x: number[]; y: number[] }[];
  yMin: number;
  yMax: number;
  yTicks: number[];
  yTitle: string;
  xTitle: string | null;
  padTop: number;
  xAxisHeight: number;
  legend: boolean;
}) {
  const gridOpts = { color: '#000', lineWidth: 2, drawTicks: false };
  const borderOpts = { display: false, dash: [8, 6] };
  const tickFont = { family: TICK_FAMILY, size: 27, weight: 'bold' as const };
  return {
    type: 'line' as const,
    data: {
      datasets: p.series.map((s, i) => ({
        label: SERIES_NAMES[i],
        data: pts(s.x, s.y),
        borderColor: SERIES_STYLE[i].color,
        backgroundColor: SERIES_STYLE[i].color,
        borderWidth: SERIES_STYLE[i].width,
        borderDash: SERIES_STYLE[i].dash,
        order: SERIES_STYLE[i].order,
        pointRadius: 0,
        tension: 0,
        fill: false,
      })),
    },
    options: {
      animation: false,
      responsive: false,
      devicePixelRatio: 1,
      events: [],
      layout: { padding: { left: 0, right: 37, top: p.padTop, bottom: 0 } },
      plugins: {
        legend: { display: false },
        tooltip: { enabled: false },
        boxLegend: { show: p.legend },
      },
      scales: {
        x: {
          type: 'linear',
          min: 0,
          max: 10000,
          afterBuildTicks: (s: any) => {
            s.ticks = X_TICKS.map((v) => ({ value: v }));
          },
          afterFit: (s: any) => {
            s.height = p.xAxisHeight;
          },
          grid: gridOpts,
          border: borderOpts,
          ticks: {
            color: '#000',
            font: tickFont,
            padding: 4,
            maxRotation: 0,
            autoSkip: false,
            callback: (v: any) => String(v),
          },
          title: p.xTitle
            ? {
                display: true,
                text: p.xTitle,
                color: '#000',
                font: { family: TITLE_FAMILY, size: 31, weight: 'bold', lineHeight: 1 },
                padding: { top: 0, bottom: 0 },
              }
            : { display: false },
        },
        y: {
          type: 'linear',
          min: p.yMin,
          max: p.yMax,
          afterBuildTicks: (s: any) => {
            s.ticks = p.yTicks.map((v) => ({ value: v }));
          },
          afterFit: (s: any) => {
            s.width = 99;
          },
          grid: gridOpts,
          border: borderOpts,
          ticks: {
            color: '#000',
            font: tickFont,
            padding: 10,
            autoSkip: false,
            callback: (v: any) => String(v),
          },
          title: {
            display: true,
            text: p.yTitle,
            color: '#000',
            font: { family: TITLE_FAMILY, size: 31, weight: 'bold', lineHeight: 1.2 },
            padding: { top: 10, bottom: 0 },
          },
        },
      },
    },
    plugins: [framePlugin, boxLegendPlugin],
  };
}

export default function App() {
  const topRef = useRef<HTMLCanvasElement | null>(null);
  const botRef = useRef<HTMLCanvasElement | null>(null);

  useEffect(() => {
    if (!topRef.current || !botRef.current) return;
    const top = new Chart(
      topRef.current,
      buildConfig({
        series: [
          { x: alphaMfX, y: alphaMfEkf },
          { x: alphaSvfX, y: alphaSvfEkf },
          { x: alphaMfX, y: alphaMfUkf },
          { x: alphaSvfX, y: alphaSvfUkf },
        ],
        yMin: -1.09,
        yMax: 1.08,
        yTicks: ALPHA_TICKS,
        yTitle: ALPHA_TITLE,
        xTitle: null,
        padTop: 48,
        xAxisHeight: 70,
        legend: true,
      }) as any
    );
    const bot = new Chart(
      botRef.current,
      buildConfig({
        series: [
          { x: betaMfX, y: betaMfEkf },
          { x: betaSvfX, y: betaSvfEkf },
          { x: betaMfX, y: betaMfUkf },
          { x: betaSvfX, y: betaSvfUkf },
        ],
        yMin: -0.7,
        yMax: 0.8,
        yTicks: BETA_TICKS,
        yTitle: BETA_TITLE,
        xTitle: X_TITLE,
        padTop: 40,
        xAxisHeight: 68,
        legend: false,
      }) as any
    );
    return () => {
      top.destroy();
      bot.destroy();
    };
  }, []);

  return (
    <div
      style={{
        position: 'absolute',
        left: 0,
        top: 0,
        width: 1271,
        height: 790,
        background: '#ffffff',
        overflow: 'hidden',
      }}
    >
      <canvas
        ref={topRef}
        width={1271}
        height={400}
        style={{ position: 'absolute', left: 0, top: 0, width: 1271, height: 400 }}
      />
      <canvas
        ref={botRef}
        width={1271}
        height={390}
        style={{ position: 'absolute', left: 0, top: 400, width: 1271, height: 390 }}
      />
    </div>
  );
}
